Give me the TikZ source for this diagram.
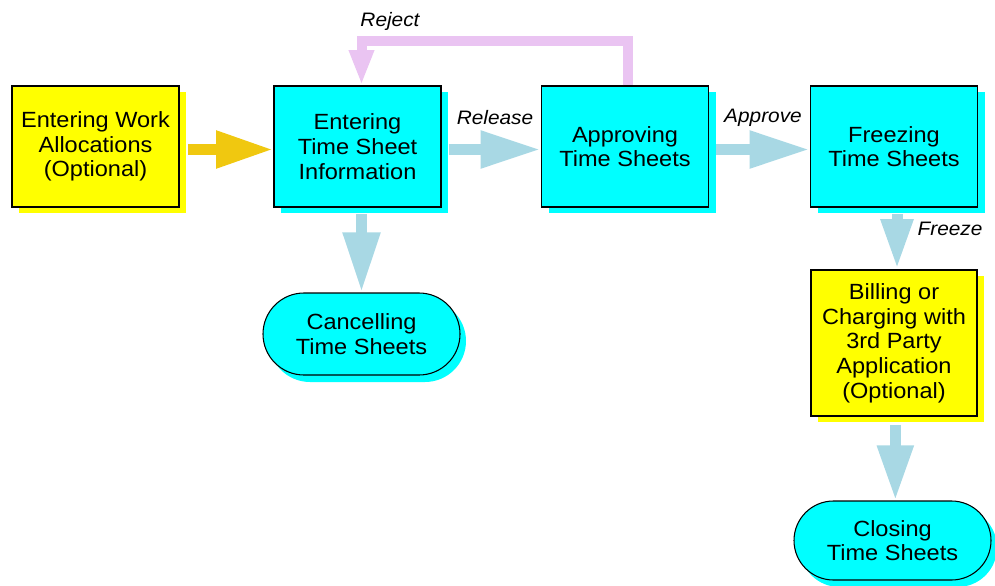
\documentclass[tikz,border=0pt]{standalone}
\usepackage{fontspec}
\setmainfont{Liberation Sans}[FakeStretch=1.07]
\usetikzlibrary{arrows.meta,shapes.misc,shadows}
\definecolor{boxyellow}{RGB}{255,255,0}
\definecolor{boxcyan}{RGB}{0,255,255}
\definecolor{flowblue}{RGB}{168,216,228}
\definecolor{flowgold}{RGB}{240,200,16}
\definecolor{flowpink}{RGB}{234,196,242}
\begin{document}
\begin{tikzpicture}[x=0.75pt,y=-0.75pt,
  every node/.style={font=\fontsize{16.5}{18.5}\selectfont, align=center, inner sep=0pt},
  boxnode/.style={draw=black, line width=1.2pt, minimum width=125.25pt, minimum height=90.75pt},
  yellowbox/.style={boxnode, fill=boxyellow, general shadow={fill=boxyellow, shadow xshift=5.25pt, shadow yshift=-4.5pt}},
  cyanbox/.style={boxnode, fill=boxcyan, general shadow={fill=boxcyan, shadow xshift=5.25pt, shadow yshift=-4.5pt}},
  endnode/.style={rounded rectangle, draw=black, line width=0.8pt, fill=boxcyan, minimum width=147.75pt,
    general shadow={fill=boxcyan, shadow xshift=4.5pt, shadow yshift=-5.25pt}},
  lbl/.style={font=\fontsize{14.6}{16}\selectfont\itshape},
  fat/.style={line width=8.25pt, -{Triangle[length=45pt,width=26.25pt]}},
]
\useasboundingbox (0,0) rectangle (995,585);

\node[yellowbox] (A) at (95.5,146.5) {Entering Work\\Allocations\\(Optional)};
\node[cyanbox] (B) at (357.5,146.5) {Entering\\Time Sheet\\Information};
\node[cyanbox] (C) at (625,146.5) {Approving\\Time Sheets};
\node[cyanbox] (D) at (894,146.5) {Freezing\\Time Sheets};
\node[yellowbox, minimum width=124.5pt, minimum height=109.5pt] (E) at (894,343)
  {Billing or\\Charging with\\3rd Party\\Application\\(Optional)};
\node[endnode, minimum height=61.5pt] (G) at (361.5,334) {Cancelling\\Time Sheets};
\node[endnode, minimum height=59.25pt] (F) at (892.5,540.5) {Closing\\Time Sheets};

% connectors
\draw[fat, flowgold, -{Triangle[length=42.75pt,width=26.25pt]}, shorten <=6pt]
  ([yshift=-2.25pt]A.east) -- ([yshift=-2.25pt]B.west);
\draw[fat, flowblue, shorten <=5.25pt] ([yshift=-2.25pt]B.east) -- ([yshift=-2.25pt]C.west);
\draw[fat, flowblue, shorten <=5.25pt] ([yshift=-2.25pt]C.east) -- ([yshift=-2.25pt]D.west);
\draw[fat, flowblue, shorten <=4.5pt] (B.south -| G.north) -- (G.north);
\draw[fat, flowblue, -{Triangle[length=37.5pt,width=22.5pt]}, shorten <=4.5pt]
  ([xshift=2.25pt]D.south) -- ([xshift=2.25pt]E.north);
\draw[fat, flowblue, -{Triangle[length=41.25pt,width=25.5pt]}, shorten <=6pt]
  ([xshift=1pt]E.south) -- ([xshift=1pt]E.south |- F.north);
\draw[flowpink, line width=7.5pt, line join=miter, -{Triangle[length=26.25pt,width=17.25pt]}]
  ([xshift=2.25pt]C.north) -- ++(0,-44.5) -| ([xshift=3pt]B.north);

% labels
\node[lbl] (lrej) at (390,21) {Reject};
\node[lbl] (lrel) at (495,118) {Release};
\node[lbl] (lapp) at (763,118) {Approve};
\node[lbl] (lfrz) at (950,229) {Freeze};
\end{tikzpicture}
\end{document}
